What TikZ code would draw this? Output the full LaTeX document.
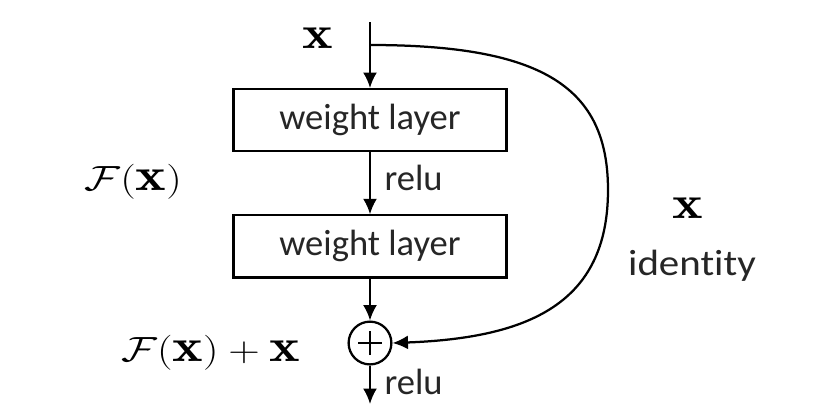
\documentclass[tikz,border=0pt]{standalone}
\usepackage{amsmath}
\usepackage{fontspec}
\usepackage{tikz}
\usetikzlibrary{positioning,arrows.meta}
\newfontfamily\layerfont[Ligatures=NoCommon]{Carlito}
\newcommand{\wide}[1]{\scalebox{1.25}[1]{#1}}

\begin{document}
\begin{tikzpicture}[node distance=1.5cm,
	line width=1.6pt,
	>={Latex[length=11pt,width=10pt]},
	layer/.style={draw, fill=white, minimum width=6.825cm, minimum height=1.55cm, inner sep=0pt, font=\layerfont\fontsize{26}{30}\selectfont, text=black!85},
	word/.style={font=\layerfont\fontsize{26}{30}\selectfont, text=black!85, inner sep=1pt},
	sym/.style={font=\fontsize{33}{38}\selectfont, inner sep=0pt},
	add/.style={draw, circle, minimum size=1.07cm, inner sep=0pt}]
			\useasboundingbox (0,0) rectangle (20.625,-10.275);
			\coordinate (in) at (9.25,-0.55);
			\node(w1)	[layer, below=1.65cm of in] {weight layer};
			\node(w2)	[layer, below=1.55cm of w1] {weight layer};
			\node(plus)	[add, below=1.05cm of w2] {};
			\coordinate (out) at (9.25,-10.1);

			\node(xin)	[sym] at (7.95,-0.95) {\wide{$\mathbf{x}$}};
			\node(relu1)	[word, anchor=west] at (9.55,-4.45) {relu};
			\node(relu2)	[word, anchor=west] at (9.55,-9.55) {relu};
			\node(Fx)	[sym] at (3.33,-4.55) {\wide{$\mathcal{F}(\mathbf{x})$}};
			\node(Fxx)	[sym] at (5.27,-8.82) {\wide{$\mathcal{F}(\mathbf{x})+\mathbf{x}$}};
			\node(xid)	[sym] at (17.2,-5.2) {\wide{$\mathbf{x}$}};
			\node(ident)	[word] at (17.3,-6.65) {\scalebox{1.12}[1]{identity}};

			% plus sign inside the adder
			\draw ([xshift=-0.3cm]plus.center) -- ([xshift=0.3cm]plus.center);
			\draw ([yshift=-0.3cm]plus.center) -- ([yshift=0.3cm]plus.center);

			\draw[->] (in) -- (w1);
			\draw[->] (w1) -- (w2);
			\draw[->] (w2) -- (plus);
			\draw[->] (plus) -- (out);
			\draw[->] (9.25,-1.125) .. controls (13.6,-1.125) and (15.2,-2.2) .. (15.2,-4.75)
				.. controls (15.2,-7.6) and (13.2,-8.45) .. (plus.east);
		\end{tikzpicture}
\end{document}
